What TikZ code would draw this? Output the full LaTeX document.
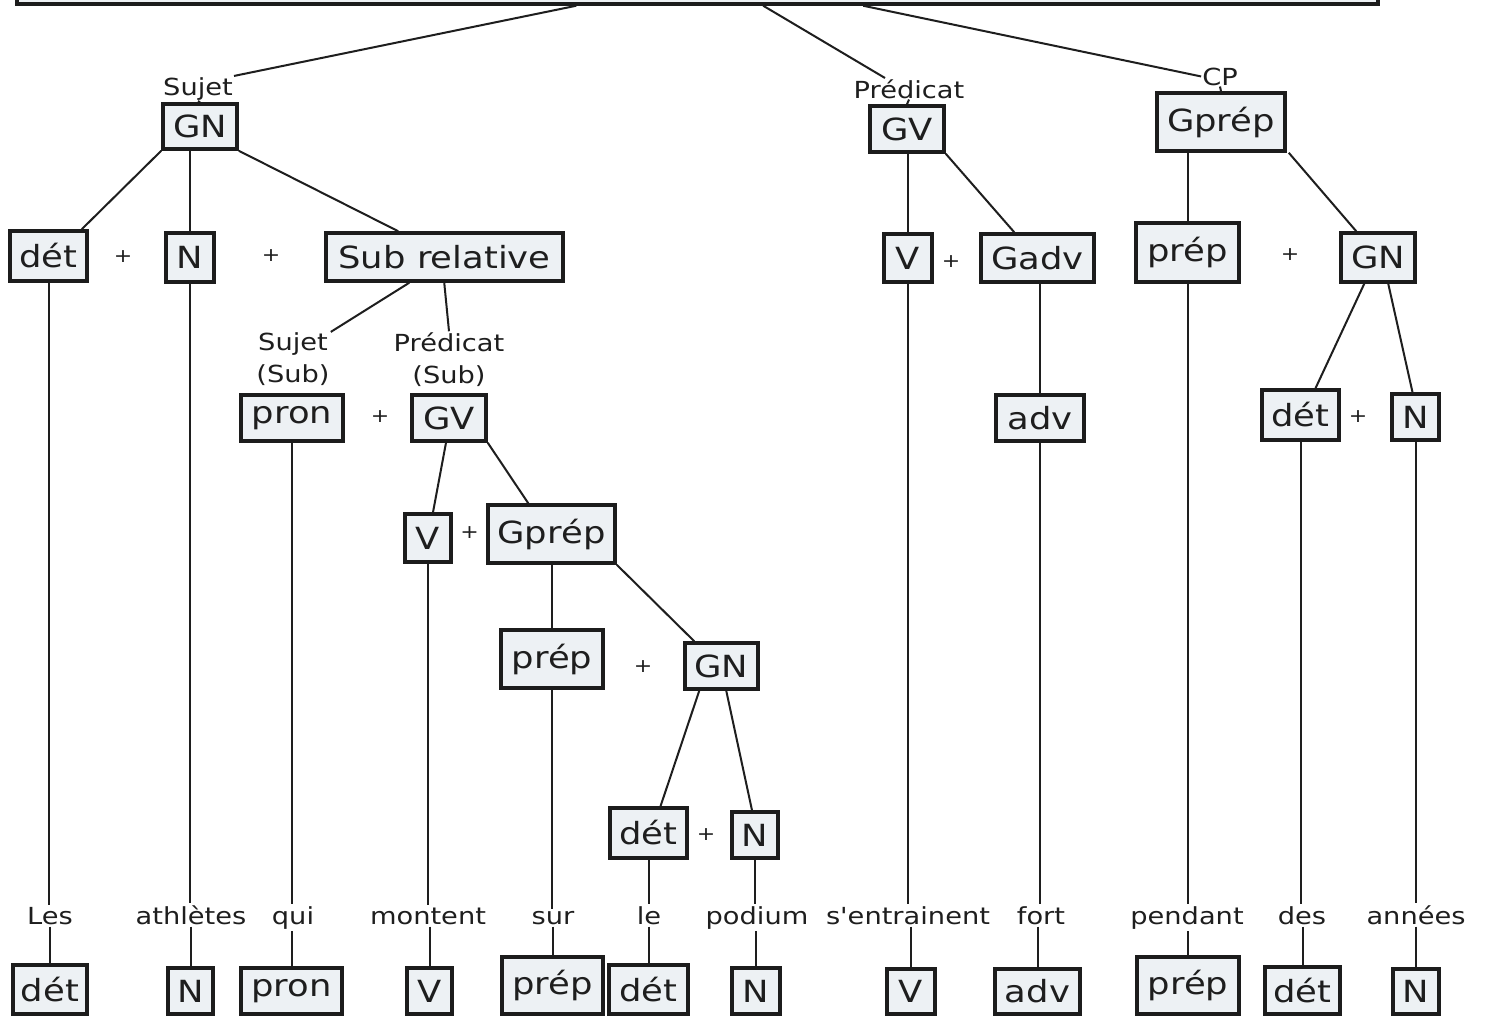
\documentclass[tikz,border=0pt]{standalone}
\usepackage{fontspec}
\setmainfont{DejaVu Sans}[FakeStretch=1.16, Ligatures=TeXOff]
\usetikzlibrary{calc}
\definecolor{boxfill}{RGB}{237,241,244}
\definecolor{boxline}{RGB}{28,28,28}
\definecolor{lncol}{RGB}{30,30,30}
\definecolor{txt}{RGB}{30,30,30}
\begin{document}
\begin{tikzpicture}[x=1pt,y=-1pt,
  bx/.style={draw=boxline, fill=boxfill, line width=3.5pt, inner sep=0pt, text=txt, font=\fontsize{30.5}{32}\selectfont},
  lab/.style={inner sep=1pt, text=txt, font=\fontsize{23.5}{32}\selectfont, align=center},
  wd/.style={fill=white, inner sep=2pt, anchor=base, text=txt, font=\fontsize{23.5}{26}\selectfont},
  pl/.style={inner sep=0pt, text=txt, font=\fontsize{19}{20}\selectfont},
  ln/.style={draw=lncol, line width=2pt}]
\useasboundingbox (0,0) rectangle (1486,1017);
\fill[white] (0,0) rectangle (1486,1017);
\clip (0,0) rectangle (1486,1017);

% top box (cut off)
\node[bx, minimum width=1361pt, minimum height=64pt] (top) at (697.5,-28) {};

% level 1 labels and boxes
\node[lab, anchor=base] (sujet) at (198,95) {Sujet};
\node[lab, anchor=base] (pred) at (909,98) {Prédicat};
\node[lab, anchor=base] (cp) at (1220,85) {CP};
\node[bx, minimum width=74pt, minimum height=45pt] (gn1) at (200,126.5) {GN};
\node[bx, minimum width=74pt, minimum height=46pt] (gv1) at (907,129) {GV};
\node[bx, minimum width=128pt, minimum height=58pt] (gp1) at (1221,122) {Gprép};

% level 2
\node[bx, minimum width=77pt, minimum height=50pt] (det1) at (48.5,256) {dét};
\node[pl] (p1) at (123,257) {+};
\node[bx, minimum width=48pt, minimum height=49pt] (n1) at (190,257.5) {N};
\node[pl] (p2) at (271,256) {+};
\node[bx, minimum width=237pt, minimum height=48pt] (sr) at (444.5,257) {Sub relative};
\node[bx, minimum width=48pt, minimum height=48pt] (v1) at (908,258) {V};
\node[pl] (p3) at (951,262) {+};
\node[bx, minimum width=113pt, minimum height=48pt] (gadv) at (1037.5,258) {Gadv};
\node[bx, minimum width=103pt, minimum height=59pt] (prep1) at (1187.5,252.5) {prép};
\node[pl] (p4) at (1290,255) {+};
\node[bx, minimum width=74pt, minimum height=49pt] (gn2) at (1378,257.5) {GN};

% level 3
\node[lab] (ssub) at (293,359.6) {Sujet\\(Sub)};
\node[lab] (psub) at (449,359.4) {Prédicat\\(Sub)};
\node[bx, minimum width=102pt, minimum height=46pt] (pron1) at (292,418) {pron};
\node[pl] (p5) at (380,417) {+};
\node[bx, minimum width=74pt, minimum height=46pt] (gv2) at (449,418) {GV};
\node[bx, minimum width=88pt, minimum height=46pt] (adv1) at (1040,418) {adv};
\node[bx, minimum width=77pt, minimum height=50pt] (det2) at (1300.5,415) {dét};
\node[pl] (p6) at (1358,417) {+};
\node[bx, minimum width=47pt, minimum height=46pt] (n2) at (1415.5,417) {N};

% level 4
\node[bx, minimum width=46pt, minimum height=48pt] (v2) at (428,538) {V};
\node[pl] (p7) at (469.5,533) {+};
\node[bx, minimum width=127pt, minimum height=58pt] (gp2) at (551.5,534) {Gprép};

% level 5
\node[bx, minimum width=102pt, minimum height=58pt] (prep2) at (552,659) {prép};
\node[pl] (p8) at (643,667) {+};
\node[bx, minimum width=73pt, minimum height=46pt] (gn3) at (721.5,666) {GN};

% level 6
\node[bx, minimum width=77pt, minimum height=50pt] (det3) at (648.5,833) {dét};
\node[pl] (p9) at (706,835) {+};
\node[bx, minimum width=46pt, minimum height=46pt] (n3) at (755,835) {N};

% words
\node[wd] (wles) at (50,924) {Les};
\node[wd] (wath) at (191,924) {athlètes};
\node[wd] (wqui) at (293,924) {qui};
\node[wd] (wmon) at (428,924) {montent};
\node[wd] (wsur) at (553,924) {sur};
\node[wd] (wle) at (649,924) {le};
\node[wd] (wpod) at (757,924) {podium};
\node[wd] (went) at (908,924) {s'entrainent};
\node[wd] (wfor) at (1041,924) {fort};
\node[wd] (wpen) at (1187,924) {pendant};
\node[wd] (wdes) at (1302,924) {des};
\node[wd] (wann) at (1416,924) {années};

% bottom row
\node[bx, minimum width=74pt, minimum height=49pt] (bdet1) at (50,989.5) {dét};
\node[bx, minimum width=45pt, minimum height=46pt] (bn1) at (190.5,991) {N};
\node[bx, minimum width=101pt, minimum height=46pt] (bpron) at (291.5,991) {pron};
\node[bx, minimum width=45pt, minimum height=46pt] (bv1) at (429.5,991) {V};
\node[bx, minimum width=101pt, minimum height=57pt] (bprep1) at (552.5,985.5) {prép};
\node[bx, minimum width=79pt, minimum height=49pt] (bdet2) at (648.5,989.5) {dét};
\node[bx, minimum width=48pt, minimum height=46pt] (bn2) at (756,991) {N};
\node[bx, minimum width=48pt, minimum height=45pt] (bv2) at (911,991.5) {V};
\node[bx, minimum width=85pt, minimum height=45pt] (badv) at (1037.5,991.5) {adv};
\node[bx, minimum width=102pt, minimum height=57pt] (bprep2) at (1188,985.5) {prép};
\node[bx, minimum width=75pt, minimum height=47pt] (bdet3) at (1302.5,990.5) {dét};
\node[bx, minimum width=46pt, minimum height=45pt] (bn3) at (1416,991.5) {N};

% connectors from top box
\draw[ln] ($(top.south west)+(561,0)$) -- (sujet.north east);
\draw[ln] ($(top.south west)+(748,0)$) -- ($(pred.north)+(-24,0)$);
\draw[ln] ($(top.south west)+(848,0)$) -- (cp.west);
\draw[ln] (sujet.south) -- (gn1.north);
\draw[ln] (pred.south) -- (gv1.north);
\draw[ln] (cp.south) -- (gp1.north);

% GN1
\draw[ln] (gn1.south west) -- ($(det1.north east)+(-7,0)$);
\draw[ln] (n1.north |- gn1.south) -- (n1.north);
\draw[ln] (gn1.south east) -- ($(sr.north west)+(74,0)$);
% Sub relative
\draw[ln] ($(sr.south west)+(85,0)$) -- (ssub.north east);
\draw[ln] ($(sr.south west)+(120,0)$) -- (psub.north);
% GV2
\draw[ln] ($(gv2.south)+(-3,0)$) -- ($(v2.north)+(5,0)$);
\draw[ln] (gv2.south east) -- ($(gp2.north west)+(42,0)$);
% Gprep2
\draw[ln] (prep2.north |- gp2.south) -- (prep2.north);
\draw[ln] (gp2.south east) -- ($(gn3.north west)+(11,0)$);
% GN3
\draw[ln] ($(gn3.south west)+(16,0)$) -- ($(det3.north)+(12,0)$);
\draw[ln] ($(gn3.south west)+(43,0)$) -- ($(n3.north)+(-3,0)$);
% GV1
\draw[ln] (v1.north |- gv1.south) -- (v1.north);
\draw[ln] (gv1.south east) -- ($(gadv.north west)+(35,0)$);
\draw[ln] (adv1.north |- gadv.south) -- (adv1.north);
% Gprep1
\draw[ln] (prep1.north |- gp1.south) -- (prep1.north);
\draw[ln] ($(gp1.south east)+(2,0)$) -- ($(gn2.north west)+(17,0)$);
% GN2
\draw[ln] ($(gn2.south west)+(25,0)$) -- ($(det2.north)+(15,0)$);
\draw[ln] ($(gn2.south west)+(49,0)$) -- ($(n2.north)+(-3,0)$);

% leaves
\foreach \a/\w/\b in {det1/wles/bdet1, n1/wath/bn1, pron1/wqui/bpron, v2/wmon/bv1,
  prep2/wsur/bprep1, det3/wle/bdet2, n3/wpod/bn2, v1/went/bv2, adv1/wfor/badv,
  prep1/wpen/bprep2, det2/wdes/bdet3, n2/wann/bn3}{
  \draw[ln] (\a.south) -- (\a.south |- \w.north);
  \draw[ln] (\b.north |- \w.south) -- (\b.north);
}
\end{tikzpicture}
\end{document}
